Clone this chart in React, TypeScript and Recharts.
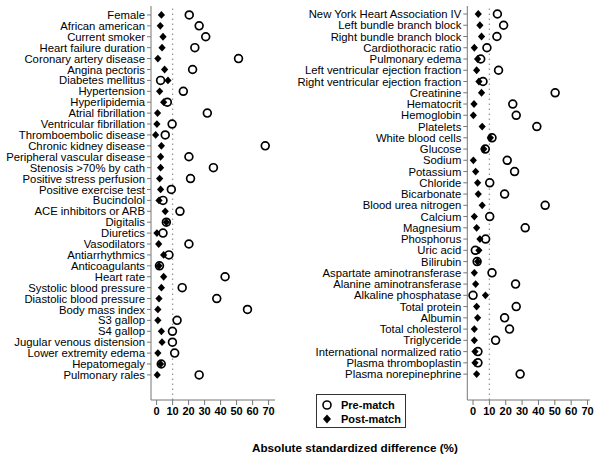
import React from 'react'
import { ScatterChart, Scatter, XAxis, YAxis, ReferenceLine } from 'recharts'

const FONT = '"Liberation Sans", Arial, sans-serif'

// left panel
const leftLabels = [
  'Female', 'African american', 'Current smoker', 'Heart failure duration', 'Coronary artery disease',
  'Angina pectoris', 'Diabetes mellitus', 'Hypertension', 'Hyperlipidemia', 'Atrial fibrillation',
  'Ventricular fibrillation', 'Thromboembolic disease', 'Chronic kidney disease', 'Peripheral vascular disease',
  'Stenosis >70% by cath', 'Positive stress perfusion', 'Positive exercise test', 'Bucindolol',
  'ACE inhibitors or ARB', 'Digitalis', 'Diuretics', 'Vasodilators', 'Antiarrhythmics', 'Anticoagulants',
  'Heart rate', 'Systolic blood pressure', 'Diastolic blood pressure', 'Body mass index', 'S3 gallop',
  'S4 gallop', 'Jugular venous distension', 'Lower extremity edema', 'Hepatomegaly', 'Pulmonary rales',
]
const leftPre = [
  20.4, 26.6, 30.7, 23.9, 51.2, 22.5, 2.5, 16.7, 6.7, 31.7, 9.7, 5.4, 67.9, 20.2, 35.5, 21.2, 9.2,
  4.0, 14.6, 6.1, 4.0, 20.2, 7.7, 1.8, 42.8, 16.0, 37.6, 56.8, 12.8, 9.9, 9.9, 11.3, 2.9, 26.6,
]
const leftPost = [
  3.0, 2.3, 4.0, 3.4, 0.8, 5.0, 7.1, 1.9, 4.4, 0.6, 0.2, -0.6, 3.0, 2.5, 2.5, 1.9, 2.5,
  1.5, 5.4, 6.1, 0.2, 1.3, 4.4, 1.5, 4.4, 3.0, 1.5, 0.8, 0.8, 3.0, 3.4, 0.8, 2.5, 0.4,
]

// right panel
const rightLabels = [
  'New York Heart Association IV', 'Left bundle branch block', 'Right bundle branch block', 'Cardiothoracic ratio',
  'Pulmonary edema', 'Left ventricular ejection fraction', 'Right ventricular ejection fraction', 'Creatinine',
  'Hematocrit', 'Hemoglobin', 'Platelets', 'White blood cells', 'Glucose', 'Sodium', 'Potassium', 'Chloride',
  'Bicarbonate', 'Blood urea nitrogen', 'Calcium', 'Magnesium', 'Phosphorus', 'Uric acid', 'Bilirubin',
  'Aspartate aminotransferase', 'Alanine aminotransferase', 'Alkaline phosphatase', 'Total protein', 'Albumin',
  'Total cholesterol', 'Triglyceride', 'International normalized ratio', 'Plasma thromboplastin',
  'Plasma norepinephrine',
]
const rightPre = [
  14.9, 18.7, 14.6, 8.5, 4.7, 15.6, 6.1, 50.2, 24.3, 26.4, 39.0, 11.6, 7.5, 20.9, 25.4, 10.2, 19.3,
  44.1, 10.2, 31.9, 7.7, 1.4, 2.5, 11.6, 26.0, 0.0, 26.4, 19.3, 22.3, 13.8, 3.0, 3.0, 28.8,
]
const rightPost = [
  3.2, 4.2, 5.2, 0.8, 2.8, 2.2, 3.6, 5.2, 0.6, 0.2, 5.6, 10.6, 6.6, 0.2, 1.6, 2.8, 3.2,
  5.6, 0.8, 2.2, 4.2, 3.6, 2.8, 0.8, 1.6, 7.6, 2.2, 2.8, 0.8, 0.8, 1.2, 1.2, 2.2,
]

const xTicks = [0, 10, 20, 30, 40, 50, 60, 70]

const OpenCircle = (props: any) => (
  <circle cx={props.cx} cy={props.cy} r={3.9} fill="#fff" stroke="#000" strokeWidth={1.7} />
)

const Diamond = (props: any) => {
  const { cx, cy } = props
  return <polygon points={`${cx},${cy - 3.9} ${cx + 3.6},${cy} ${cx},${cy + 3.9} ${cx - 3.6},${cy}`} fill="#000" />
}

// plain text tick so long labels are not wrapped
const makeYTick = (labels: string[]) => (props: any) => {
  const { x, y, payload } = props
  return (
    <text x={x} y={y} dy="0.36em" textAnchor="end" fontSize={11.3} fontFamily={FONT} fill="#000">
      {labels[payload.value]}
    </text>
  )
}

const XTick = (props: any) => {
  const { x, y, payload } = props
  return (
    <text x={x} y={y} dy="0.75em" textAnchor="middle" fontSize={11} fontWeight="bold" fontFamily={FONT} fill="#000">
      {payload.value}
    </text>
  )
}

const Panel = ({ labels, pre, post, yAxisWidth, xMax, yDomain, width, right }: any) => {
  const preData = labels.map((_: string, i: number) => ({ x: pre[i], y: i }))
  const postData = labels.map((_: string, i: number) => ({ x: post[i], y: i }))
  const yTicks = labels.map((_: string, i: number) => i)
  return (
    <ScatterChart width={width} height={430} margin={{ top: 6, right, bottom: 0, left: 0 }}>
      <XAxis
        type="number"
        dataKey="x"
        domain={[-3.5, xMax]}
        ticks={xTicks}
        interval={0}
        height={30}
        tickSize={5}
        stroke="#777"
        tick={<XTick />}
        allowDataOverflow
      />
      <YAxis
        type="number"
        dataKey="y"
        domain={yDomain}
        reversed
        ticks={yTicks}
        interval={0}
        width={yAxisWidth}
        tickSize={4}
        tickMargin={2}
        stroke="#777"
        tick={makeYTick(labels)}
        allowDataOverflow
      />
      <ReferenceLine x={10} stroke="#999" strokeDasharray="1.5 3.5" strokeWidth={1.3} />
      <Scatter data={preData} shape={OpenCircle} isAnimationActive={false} />
      <Scatter data={postData} shape={Diamond} isAnimationActive={false} />
    </ScatterChart>
  )
}

export default function App() {
  return (
    <div style={{ position: 'absolute', left: 0, top: 0, width: 600, height: 460, background: '#fff', fontFamily: FONT }}>
      <div style={{ position: 'absolute', left: 0, top: 0 }}>
        <Panel labels={leftLabels} pre={leftPre} post={leftPost} yAxisWidth={151} xMax={74}
          yDomain={[-0.82, 35.3]} width={285} right={10} />
      </div>
      <div style={{ position: 'absolute', left: 285, top: 0 }}>
        <Panel labels={rightLabels} pre={rightPre} post={rightPost} yAxisWidth={182.3} xMax={71.5}
          yDomain={[-0.71, 34.3]} width={315} right={10} />
      </div>
      <div style={{
        position: 'absolute', left: 316, top: 394, width: 88, height: 32, border: '1.5px solid #333',
        fontSize: 11, fontWeight: 'bold', lineHeight: '14px', boxSizing: 'content-box',
      }}>
        <div style={{ display: 'flex', alignItems: 'center', marginTop: 3 }}>
          <svg width={22} height={14}><circle cx={10} cy={7} r={4} fill="#fff" stroke="#000" strokeWidth={1.6} /></svg>
          <span style={{ marginLeft: 2 }}>Pre-match</span>
        </div>
        <div style={{ display: 'flex', alignItems: 'center' }}>
          <svg width={22} height={14}><polygon points="10,2.5 14,7 10,11.5 6,7" fill="#000" /></svg>
          <span style={{ marginLeft: 2 }}>Post-match</span>
        </div>
      </div>
      <div style={{ position: 'absolute', left: 252, top: 441, fontSize: 11.7, fontWeight: 'bold', whiteSpace: 'nowrap' }}>
        Absolute standardized difference (%)
      </div>
    </div>
  )
}
